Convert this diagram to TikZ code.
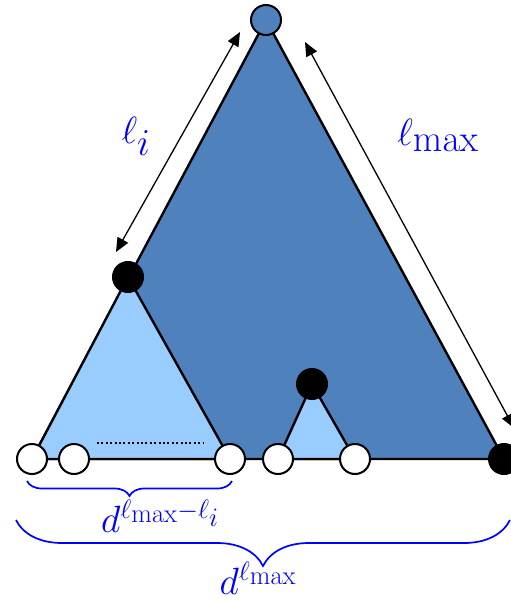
\documentclass[tikz,border=0pt]{standalone}
\usepackage{fix-cm}
\usepackage{amsmath}
\usepackage{xcolor}
\usepackage{tikz}
\usetikzlibrary{arrows.meta, backgrounds, decorations.pathreplacing}

\definecolor{treeblue}{RGB}{79,129,189}
\definecolor{subblue}{RGB}{153,204,255}

\begin{document}
\begin{tikzpicture}[
    x=1pt, y=-1pt,
    vert/.style={circle, draw, line width=2pt, minimum size=30pt, inner sep=0pt},
    leaf/.style={vert, fill=white},
    hub/.style={vert, fill=black},
    tri/.style={draw, line width=2.4pt, line join=round},
    dimarr/.style={{Triangle[length=14pt,width=12pt]}-{Triangle[length=14pt,width=12pt]}, line width=1.3pt},
    lbl/.style={text=blue, font=\fontsize{38}{42}\selectfont},
    brc/.style={draw=blue, line width=1.7pt, decorate, decoration={brace, amplitude=#1}},
]
\useasboundingbox (0,0) rectangle (511,602);

% tree vertices
\node[vert, fill=treeblue] (root) at (266,20)  {};
\node[hub]                 (b1)   at (128,277) {};
\node[hub]                 (b2)   at (312,384) {};
\node[hub]                 (b3)   at (504,459) {};
\node[leaf]                (w1)   at (32,459)  {};
\node[leaf]                (w2)   at (74,459)  {};
\node[leaf]                (w3)   at (230,459) {};
\node[leaf]                (w4)   at (278,459) {};
\node[leaf]                (w5)   at (355,459) {};

% subtrees behind the vertices
\begin{scope}[on background layer]
\draw[tri, fill=treeblue] (root.center) -- (b3.center) -- (w1.center) -- cycle;
\draw[tri, fill=subblue]  (b1.center) -- (w3.center) -- (w1.center) -- cycle;
\draw[tri, fill=subblue]  (b2.center) -- (w5.center) -- (w4.center) -- cycle;
\draw[tri] (w1.center) -- (b3.center);
\draw[line width=2pt, dash pattern=on 2pt off 2.4pt] (97,443) -- (203,443);
\end{scope}

% path lengths
\coordinate (li-lo) at (116,252);
\coordinate (li-hi) at (240,32);
\coordinate (lm-hi) at (305,42);
\coordinate (lm-lo) at (514,428);
\draw[dimarr] (li-lo) -- (li-hi);
\draw[dimarr] (lm-hi) -- (lm-lo);
\node[lbl] (li) at (136,136) {$\ell_{\textstyle i}$};
\node[lbl] (lm) at (438,135) {$\ell_{\textstyle\mathrm{max}}$};

% leaf counts
\draw[brc=15] (232,481) -- (27,481);
\draw[brc=46] (510,520) -- (16,520);
\node[lbl] (dsub) at (160,516) {$d^{\ell_{\scriptstyle\mathrm{max}}-\ell_{\scriptstyle i}}$};
\node[lbl] (dall) at (258,578) {$d^{\ell_{\scriptstyle\mathrm{max}}}$};
\end{tikzpicture}
\end{document}
